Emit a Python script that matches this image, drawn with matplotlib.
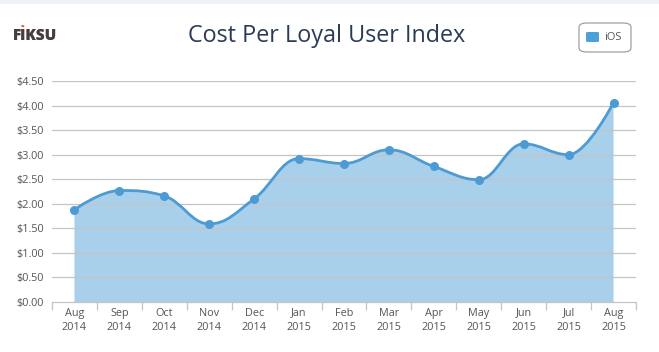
import numpy as np
import matplotlib
matplotlib.use("Agg")
import matplotlib.pyplot as plt
from matplotlib.path import Path
from matplotlib.patches import PathPatch, FancyBboxPatch, Rectangle

months = ["Aug", "Sep", "Oct", "Nov", "Dec", "Jan", "Feb", "Mar", "Apr", "May", "Jun", "Jul", "Aug"]
years = ["2014", "2014", "2014", "2014", "2014", "2015", "2015", "2015", "2015", "2015", "2015", "2015", "2015"]
ios_values = [1.88, 2.27, 2.16, 1.59, 2.10, 2.92, 2.82, 3.10, 2.76, 2.49, 3.22, 3.00, 4.06]
y_ticks = [0.0, 0.5, 1.0, 1.5, 2.0, 2.5, 3.0, 3.5, 4.0, 4.5]

FONT = "Open Sans"
plt.rcParams["font.family"] = [FONT, "DejaVu Sans"]

LINE = "#4d9bd4"
FILL = "#a9d0ea"
GRID = "#c4c4c4"
TXT = "#555555"

fig = plt.figure(figsize=(6.59, 3.52), dpi=100)
fig.patch.set_facecolor("white")
ax = fig.add_axes([52 / 659, 1 - 302 / 352, 584 / 659, 221 / 352])

x = np.arange(len(ios_values), dtype=float)
y = np.array(ios_values, dtype=float)


def spline_controls(xs, ys, smoothing=1.5):
    # Highcharts-style spline control points (in data space)
    n = len(xs)
    lc = [(xs[i], ys[i]) for i in range(n)]
    rc = [(xs[i], ys[i]) for i in range(n)]
    denom = smoothing + 1
    for i in range(1, n - 1):
        px, py = xs[i], ys[i]
        lx, ly = xs[i - 1], ys[i - 1]
        nx, ny = xs[i + 1], ys[i + 1]
        lcx = (smoothing * px + lx) / denom
        lcy = (smoothing * py + ly) / denom
        rcx = (smoothing * px + nx) / denom
        rcy = (smoothing * py + ny) / denom
        corr = ((rcy - lcy) * (rcx - px)) / (rcx - lcx) + py - rcy
        lcy += corr
        rcy += corr
        if lcy < ly and lcy < py:
            lcy = min(ly, py)
            rcy = 2 * py - lcy
        elif lcy > ly and lcy > py:
            lcy = max(ly, py)
            rcy = 2 * py - lcy
        if rcy < ny and rcy < py:
            rcy = min(ny, py)
            lcy = 2 * py - rcy
        elif rcy > ny and rcy > py:
            rcy = max(ny, py)
            lcy = 2 * py - rcy
        lc[i] = (lcx, lcy)
        rc[i] = (rcx, rcy)
    verts = [(xs[0], ys[0])]
    codes = [Path.MOVETO]
    for i in range(1, n):
        verts += [rc[i - 1], lc[i], (xs[i], ys[i])]
        codes += [Path.CURVE4] * 3
    return verts, codes


verts, codes = spline_controls(x, y)

# filled area
fverts = list(verts) + [(x[-1], 0.0), (x[0], 0.0), (x[0], y[0])]
fcodes = list(codes) + [Path.LINETO, Path.LINETO, Path.CLOSEPOLY]
ax.add_patch(PathPatch(Path(fverts, fcodes), facecolor=FILL, edgecolor="none", zorder=1))
# grid lines on top of fill (as in the reference)
for t in y_ticks[1:]:
    ax.axhline(t, color=GRID, lw=0.9, zorder=2)
ax.add_patch(PathPatch(Path(verts, codes), facecolor="none", edgecolor=LINE, lw=2.0, zorder=3))
ax.plot(x, y, "o", color=LINE, ms=6.5, zorder=4, mec="none")

ax.set_xlim(-0.5, len(ios_values) - 0.5)
ax.set_ylim(0, 4.5)
for s in ["top", "right", "left"]:
    ax.spines[s].set_visible(False)
ax.spines["bottom"].set_color(GRID)
ax.spines["bottom"].set_linewidth(0.9)

ax.set_yticks(y_ticks)
ax.set_yticklabels([f"${v:.2f}" for v in y_ticks], fontsize=7.8, color=TXT)
ax.tick_params(axis="y", length=0, pad=6)

ax.set_xticks(x)
ax.set_xticklabels([f"{m}\n{yr}" for m, yr in zip(months, years)], fontsize=7.8, color=TXT, linespacing=1.45)
ax.tick_params(axis="x", length=0, pad=4)
ax.set_xticks(np.arange(len(ios_values) + 1) - 0.5, minor=True)
ax.tick_params(axis="x", which="minor", length=6, color=GRID, width=0.9)
ax.set_facecolor("white")

# top band
fig.patches.append(Rectangle((0, 1 - 4 / 352), 1, 4 / 352, transform=fig.transFigure,
                             facecolor="#eef2f6", edgecolor="none"))

# title
fig.text(327 / 659, 1 - 36 / 352, "Cost Per Loyal User Index", ha="center", va="center",
         fontsize=16.8, color="#2b3b55")

# logo: orange dotted I underneath, grey letters on top
fig.text(13 / 659, 1 - 34 / 352, "F\u0130KSU", ha="left", va="center_baseline", fontsize=11,
         fontweight="heavy", color="#f0612a")
fig.text(13 / 659, 1 - 34 / 352, "FIKSU", ha="left", va="center_baseline", fontsize=11,
         fontweight="heavy", color="#3a4148")

# legend box
fig.patches.append(FancyBboxPatch((579 / 659, 1 - 52 / 352), 52 / 659, 29 / 352,
                                  boxstyle="round,pad=0,rounding_size=0.012",
                                  transform=fig.transFigure, facecolor="white",
                                  edgecolor="#a0a0a0", lw=0.9))
fig.patches.append(FancyBboxPatch((586 / 659, 1 - 42 / 352), 13 / 659, 10 / 352,
                                  boxstyle="round,pad=0,rounding_size=0.003",
                                  transform=fig.transFigure, facecolor="#4d9fd8",
                                  edgecolor="none"))
fig.text(604 / 659, 1 - 37 / 352, "iOS", ha="left", va="center", fontsize=8, color=TXT)

fig.savefig("out.png", dpi=100, facecolor="white")
